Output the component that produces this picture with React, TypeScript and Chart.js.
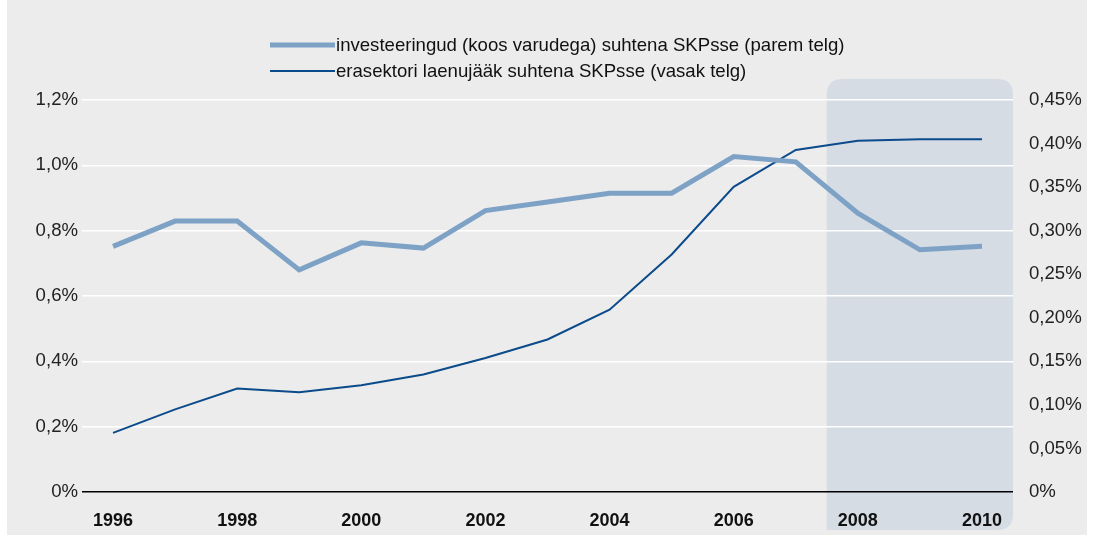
import React, { useEffect, useRef } from "react";
import { Chart, registerables } from "chart.js";

Chart.register(...registerables);

const years = ["1996","1997","1998","1999","2000","2001","2002","2003","2004","2005","2006","2007","2008","2009","2010"];
const investLabel = "investeeringud (koos varudega) suhtena SKPsse (parem telg)";
const loanLabel = "erasektori laenujääk suhtena SKPsse (vasak telg)";
const investValues = [0.282, 0.311, 0.311, 0.255, 0.286, 0.280, 0.323, 0.333, 0.343, 0.343, 0.385, 0.379, 0.320, 0.278, 0.282];
const loanValues = [0.181, 0.253, 0.317, 0.305, 0.327, 0.360, 0.410, 0.467, 0.558, 0.727, 0.934, 1.047, 1.075, 1.080, 1.080];
const shadedFrom = "2008";

const FONT = "'Liberation Sans', Arial, Helvetica, sans-serif";

const bgPlugin = {
  id: "bgPlugin",
  beforeDraw(chart: any) {
    const { ctx, chartArea, scales } = chart;
    ctx.save();
    ctx.fillStyle = "#ffffff";
    ctx.fillRect(0, 0, chart.width, chart.height);
    ctx.fillStyle = "#ebeceb";
    ctx.fillRect(7, 0, 1080, 535);
    const x = scales.x;
    const idx = years.indexOf(shadedFrom);
    const half = (x.getPixelForValue(1) - x.getPixelForValue(0)) / 2;
    const left = x.getPixelForValue(idx) - half;
    const right = chartArea.right;
    const top = chartArea.top - 21;
    const bottom = chartArea.bottom + 38;
    const r = 16;
    ctx.fillStyle = "#d5dce3";
    ctx.beginPath();
    ctx.moveTo(left + r, top);
    ctx.lineTo(right - r, top);
    ctx.quadraticCurveTo(right, top, right, top + r);
    ctx.lineTo(right, bottom - r);
    ctx.quadraticCurveTo(right, bottom, right - r, bottom);
    ctx.lineTo(left, bottom);
    ctx.lineTo(left, top + r);
    ctx.quadraticCurveTo(left, top, left + r, top);
    ctx.closePath();
    ctx.fill();
    ctx.restore();
  },
  afterDraw(chart: any) {
    const { ctx } = chart;
    ctx.save();
    const items = chart.data.datasets.map((d: any) => ({ label: d.label, color: d.borderColor, w: d.borderWidth }));
    const rows = [45, 71];
    items.forEach((it: any, i: number) => {
      const y = rows[i];
      ctx.strokeStyle = it.color;
      ctx.lineWidth = it.w;
      ctx.beginPath();
      ctx.moveTo(270, y);
      ctx.lineTo(335, y);
      ctx.stroke();
      ctx.fillStyle = "#111111";
      ctx.font = `18.6px ${FONT}`;
      ctx.textBaseline = "middle";
      ctx.textAlign = "left";
      ctx.fillText(it.label, 336, y + 1);
    });
    ctx.restore();
  },
};

export default function App() {
  const ref = useRef<HTMLCanvasElement>(null);
  useEffect(() => {
    document.body.style.margin = "0";
    const chart = new Chart(ref.current!, {
      type: "line",
      data: {
        labels: years,
        datasets: [
          {
            label: investLabel,
            data: investValues,
            yAxisID: "y1",
            borderColor: "#7ea2c6",
            backgroundColor: "#7ea2c6",
            borderWidth: 5,
            pointRadius: 0,
            tension: 0,
          },
          {
            label: loanLabel,
            data: loanValues,
            yAxisID: "y",
            borderColor: "#0b4a8b",
            backgroundColor: "#0b4a8b",
            borderWidth: 2,
            pointRadius: 0,
            tension: 0,
          },
        ],
      },
      options: {
        animation: false,
        responsive: false,
        maintainAspectRatio: false,
        layout: { padding: { top: 100, bottom: 0, left: 0, right: 0 } },
        plugins: { legend: { display: false }, tooltip: { enabled: false } },
        scales: {
          x: {
            offset: true,
            afterFit: (s: any) => { s.height = 44; },
            grid: { display: false, drawTicks: false },
            border: { display: false },
            ticks: {
              autoSkip: false,
              maxRotation: 0,
              padding: 18,
              color: "#111111",
              font: { family: FONT, size: 18, weight: "bold" },
              callback: (_v: any, i: number) => (Number(years[i]) % 2 === 0 ? years[i] : ""),
            },
          },
          y: {
            position: "left",
            min: 0,
            max: 1.2,
            afterFit: (s: any) => { s.width = 82; },
            grid: {
              drawTicks: false,
              lineWidth: 1.5,
              color: (c: any) => (c.tick && c.tick.value === 0 ? "#000000" : "#ffffff"),
            },
            border: { display: false },
            ticks: {
              stepSize: 0.2,
              padding: 4,
              color: "#222222",
              font: { family: FONT, size: 18.6 },
              callback: (v: any) => (Number(v) === 0 ? "0%" : Number(v).toFixed(1).replace(".", ",") + "%"),
            },
          },
          y1: {
            position: "right",
            min: 0,
            max: 0.45,
            afterFit: (s: any) => { s.width = 80; },
            grid: { display: false, drawTicks: false },
            border: { display: false },
            ticks: {
              stepSize: 0.05,
              padding: 16,
              color: "#222222",
              font: { family: FONT, size: 18.6 },
              callback: (v: any) => (Number(v) === 0 ? "0%" : Number(v).toFixed(2).replace(".", ",") + "%"),
            },
          },
        },
      },
      plugins: [bgPlugin],
    });
    return () => chart.destroy();
  }, []);
  return (
    <div style={{ width: 1093, height: 536 }}>
      <canvas ref={ref} width={1093} height={536} style={{ display: "block" }} />
    </div>
  );
}
